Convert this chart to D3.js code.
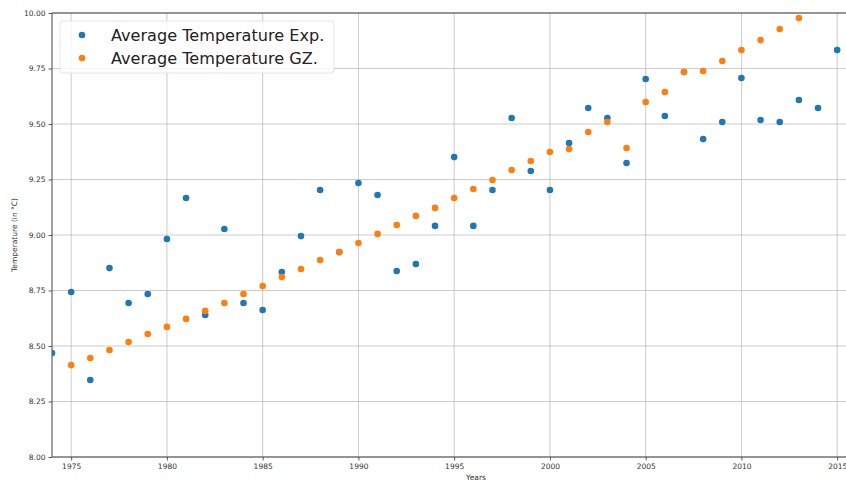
<!DOCTYPE html>
<html><head><meta charset="utf-8">
<script src="https://cdn.jsdelivr.net/npm/d3@7"></script>
<style>body{margin:0;background:#fff}svg{display:block;font-family:"DejaVu Sans",sans-serif}</style>
</head><body>
<svg id="c" width="846" height="481"></svg>
<script>
const expYears = [1974,1975,1976,1977,1978,1979,1980,1981,1982,1983,1984,1985,1986,1987,1988,1989,1990,1991,1992,1993,1994,1995,1996,1997,1998,1999,2000,2001,2002,2003,2004,2005,2006,2007,2008,2009,2010,2011,2012,2013,2014,2015];
const expValues = [8.468,8.743,8.347,8.851,8.694,8.734,8.982,9.167,8.640,9.027,8.694,8.662,8.833,8.995,9.203,8.923,9.234,9.180,8.838,8.869,9.041,9.351,9.041,9.203,9.527,9.288,9.203,9.414,9.572,9.527,9.324,9.703,9.536,9.734,9.432,9.509,9.707,9.518,9.509,9.608,9.572,9.833];
const gzYears = [1975,1976,1977,1978,1979,1980,1981,1982,1983,1984,1985,1986,1987,1988,1989,1990,1991,1992,1993,1994,1995,1996,1997,1998,1999,2000,2001,2002,2003,2004,2005,2006,2007,2008,2009,2010,2011,2012,2013];
const gzValues = [8.414,8.446,8.482,8.518,8.554,8.586,8.622,8.658,8.694,8.734,8.770,8.811,8.847,8.887,8.923,8.964,9.005,9.045,9.086,9.122,9.167,9.207,9.248,9.293,9.333,9.374,9.387,9.464,9.509,9.392,9.599,9.644,9.734,9.739,9.784,9.833,9.878,9.928,9.977];
const xTicks = [1975,1980,1985,1990,1995,2000,2005,2010,2015];
const yTicks = [8.00,8.25,8.50,8.75,9.00,9.25,9.50,9.75,10.00];
const seriesNames = ["Average Temperature Exp.","Average Temperature GZ."];
const colors = ["#1f77b4","#ff7f0e"];

const svg = d3.select("#c");
const L = 52, T = 13, B = 457, R = 846;
const x = d3.scaleLinear().domain([1974, 2015.46]).range([L, R]);
const y = d3.scaleLinear().domain([8, 10]).range([B, T]);

svg.append("defs").append("clipPath").attr("id","clip")
  .append("rect").attr("x",L).attr("y",T).attr("width",R-L).attr("height",B-T);

// grid
const g = svg.append("g");
g.selectAll("line.vx").data(xTicks).join("line")
  .attr("x1",d=>x(d)).attr("x2",d=>x(d)).attr("y1",T).attr("y2",B)
  .attr("stroke","#b0b0b0").attr("stroke-width",0.8).attr("opacity",0.8);
g.selectAll("line.hy").data(yTicks).join("line")
  .attr("x1",L).attr("x2",R).attr("y1",d=>y(d)).attr("y2",d=>y(d))
  .attr("stroke","#b0b0b0").attr("stroke-width",0.8).attr("opacity",0.8);

// axes
const xAxis = d3.axisBottom(x).tickValues(xTicks).tickFormat(d3.format("d")).tickSize(3.5).tickPadding(3);
const yAxis = d3.axisLeft(y).tickValues(yTicks).tickFormat(d3.format(".2f")).tickSize(3.5).tickPadding(3);
const gx = svg.append("g").attr("transform",`translate(0,${B})`).call(xAxis);
const gy = svg.append("g").attr("transform",`translate(${L},0)`).call(yAxis);
[gx,gy].forEach(a=>{
  a.select(".domain").remove();
  a.selectAll("line").attr("stroke","#333").attr("stroke-width",0.8);
  a.selectAll("text").attr("fill","#333").style("font-size","7.5px").style("font-family","DejaVu Sans");
});
// spines
svg.append("line").attr("x1",L).attr("x2",L).attr("y1",T).attr("y2",B).attr("stroke","#444").attr("stroke-width",1);
svg.append("line").attr("x1",L).attr("x2",R).attr("y1",B).attr("y2",B).attr("stroke","#444").attr("stroke-width",1);
svg.append("line").attr("x1",L).attr("x2",R).attr("y1",T).attr("y2",T).attr("stroke","#444").attr("stroke-width",1);

// points
const pts = svg.append("g").attr("clip-path","url(#clip)");
pts.selectAll("circle.e").data(expYears.map((yr,i)=>[yr,expValues[i]])).join("circle")
  .attr("cx",d=>x(d[0])).attr("cy",d=>y(d[1])).attr("r",3.3).attr("fill",colors[0]);
pts.selectAll("circle.g").data(gzYears.map((yr,i)=>[yr,gzValues[i]])).join("circle")
  .attr("cx",d=>x(d[0])).attr("cy",d=>y(d[1])).attr("r",3.3).attr("fill",colors[1]);

// labels
svg.append("text").attr("x",(L+R)/2+27).attr("y",480).attr("text-anchor","middle")
  .style("font-size","7.5px").attr("fill","#333").text("Years");
svg.append("text").attr("transform",`translate(17,${(T+B)/2}) rotate(-90)`).attr("text-anchor","middle")
  .style("font-size","7.5px").attr("fill","#333").text("Temperature (in °C)");

// legend
const lg = svg.append("g");
lg.append("rect").attr("x",60).attr("y",21).attr("width",274).attr("height",52).attr("rx",3)
  .attr("fill","#fff").attr("fill-opacity",0.8).attr("stroke","#ddd").attr("stroke-width",0.8);
seriesNames.forEach((n,i)=>{
  lg.append("circle").attr("cx",82).attr("cy",35+i*23).attr("r",3.3).attr("fill",colors[i]);
  lg.append("text").attr("x",111).attr("y",35+i*23).attr("dy","0.35em")
    .style("font-size","16.1px").attr("fill","#222").text(n);
});
</script>
</body></html>
